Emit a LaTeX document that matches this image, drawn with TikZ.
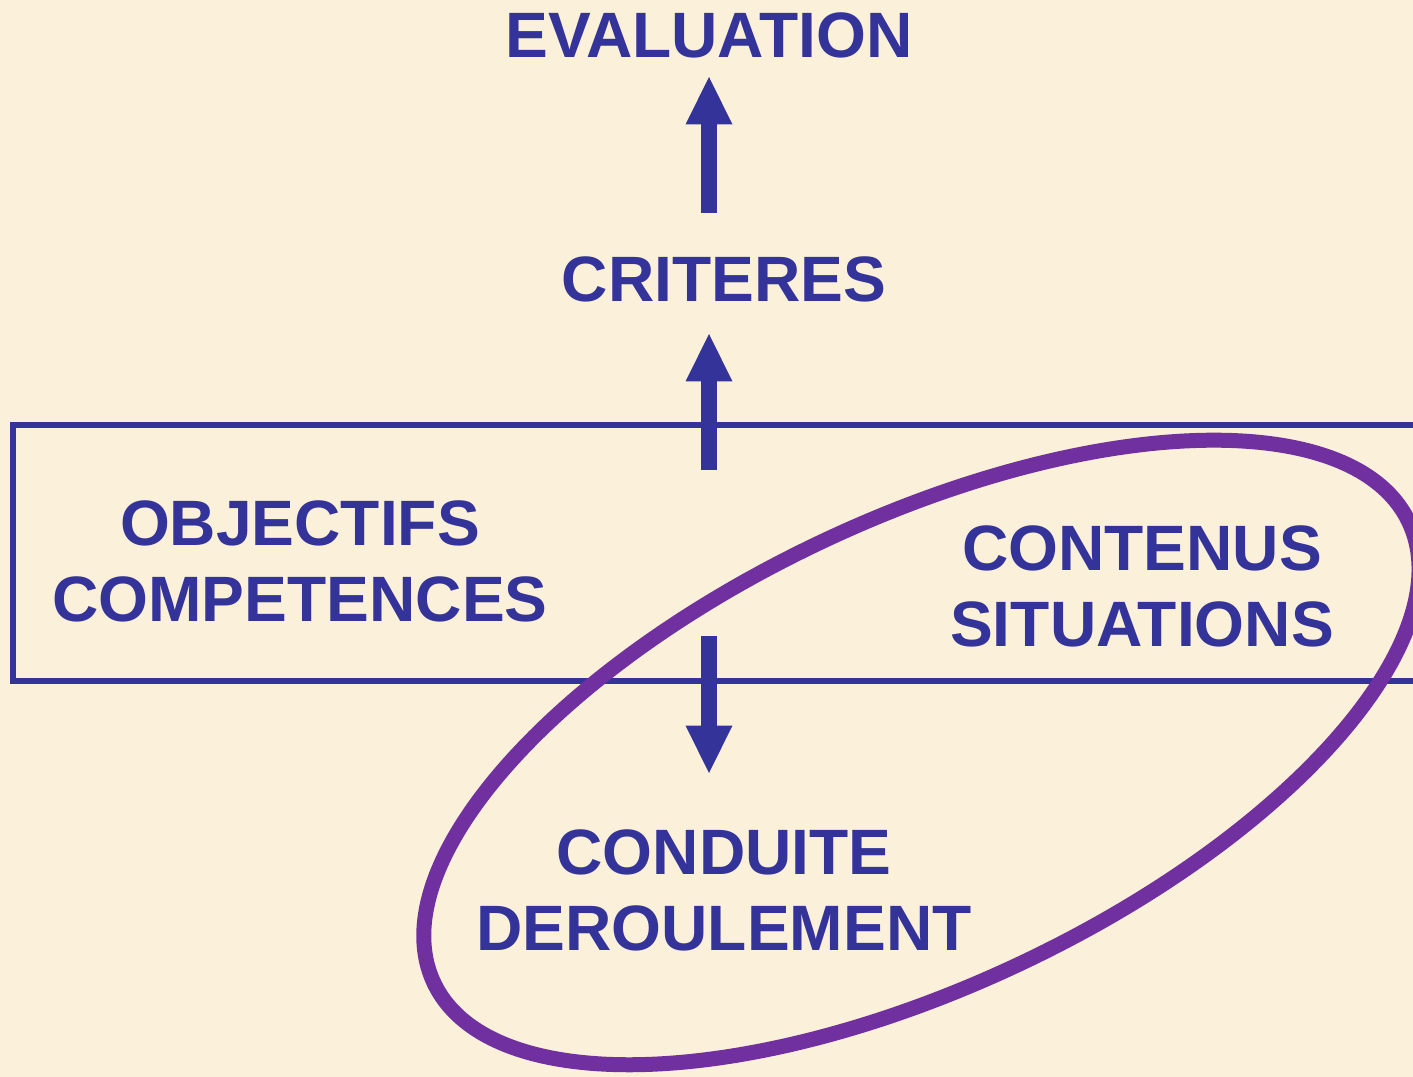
\documentclass[tikz,border=0pt]{standalone}
\usepackage{fontspec}
\setmainfont{Liberation Sans}
\usetikzlibrary{arrows.meta}
\definecolor{bgcream}{HTML}{FBF0DA}
\definecolor{navy}{HTML}{333399}
\definecolor{ringviolet}{HTML}{7030A0}
\begin{document}
\begin{tikzpicture}[x=0.02cm,y=0.02cm,
  lbl/.style={inner sep=0pt, text=navy, font=\fontsize{36.5}{43.2}\selectfont\bfseries, align=center},
  bigarrow/.style={draw=navy, line width=0.32cm, -{Triangle[width=0.94cm,length=0.95cm,line width=0pt]}},
  framebox/.style={draw=navy, line width=0.12cm},
  ring/.style={draw=ringviolet, line width=0.3cm}]
\fill[bgcream] (0,0) rectangle (1413,-1077);
\useasboundingbox (0,0) rectangle (1413,-1077);
\clip (0,0) rectangle (1413,-1077);
% frame
\coordinate (fbl) at (13,-681);
\coordinate (ftr) at (1440,-425.5);
\draw[framebox] (fbl) rectangle (ftr);
% ellipse
\coordinate (ec) at (921.5,-752.5);
\draw[ring, rotate around={25.3:(ec)}] (ec) ellipse [x radius=10.786cm, y radius=4.664cm];
% labels
\node[lbl, anchor=base] (eval) at (709,-58) {EVALUATION};
\node[lbl, anchor=base] (crit) at (724,-302) {CRITERES};
\node[lbl, anchor=center] (obj) at (300,-561) {OBJECTIFS\\COMPETENCES};
\node[lbl, anchor=center] (cont) at (1142,-586.5) {CONTENUS\\SITUATIONS};
\node[lbl, anchor=center] (cond) at (724,-890) {CONDUITE\\DEROULEMENT};
% arrows
\coordinate (a1s) at (709,-213);
\coordinate (a1e) at (709,-77);
\coordinate (a2s) at (709,-470);
\coordinate (a2e) at (709,-334);
\coordinate (a3s) at (709,-636);
\coordinate (a3e) at (709,-773);
\draw[bigarrow] (a1s) -- (a1e);
\draw[bigarrow] (a2s) -- (a2e);
\draw[bigarrow] (a3s) -- (a3e);
\end{tikzpicture}
\end{document}
